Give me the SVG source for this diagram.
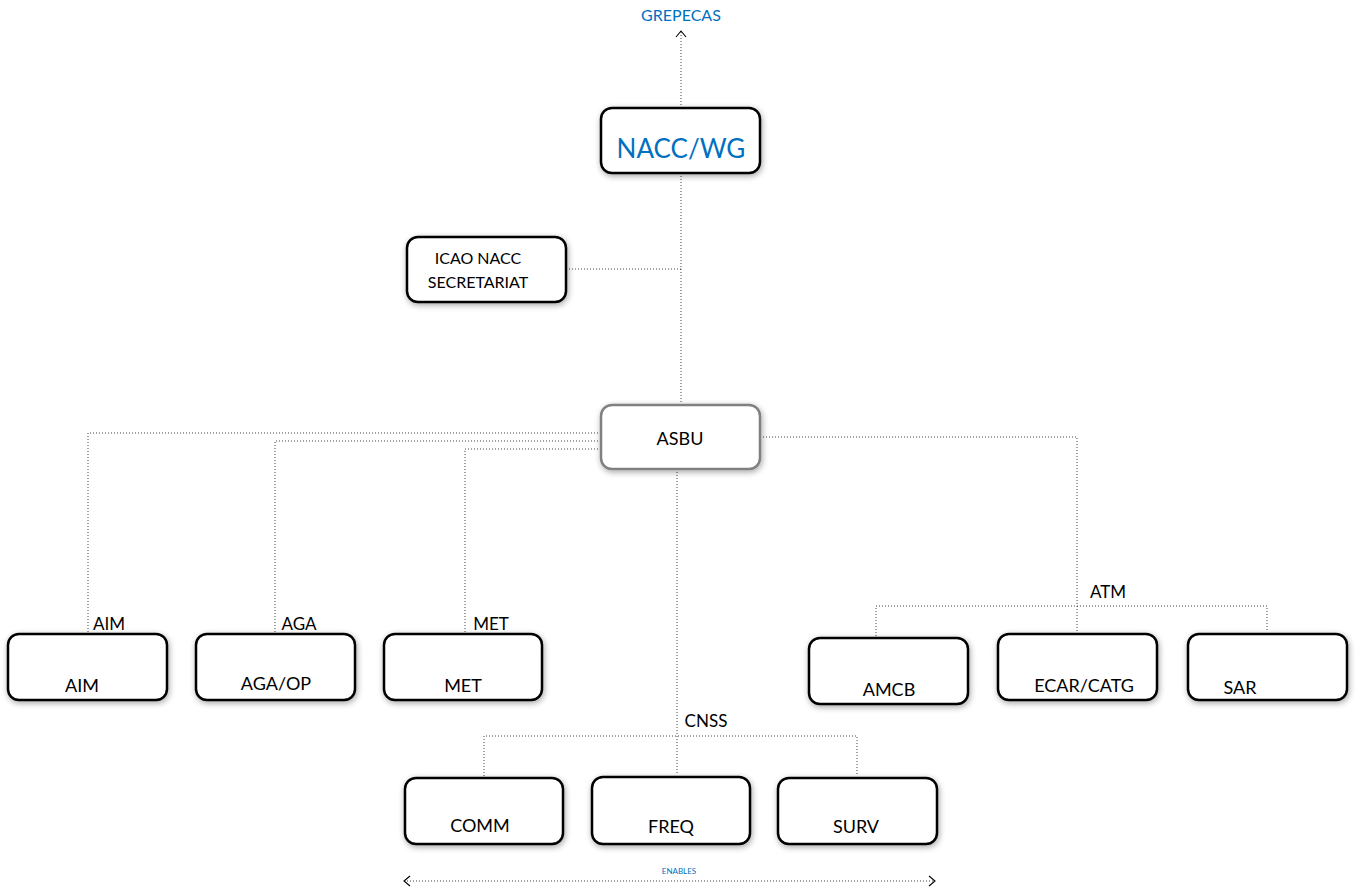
<svg xmlns="http://www.w3.org/2000/svg" width="1356" height="890" viewBox="0 0 1356 890">
<style>
text{font-family:Lato,"Open Sans","Liberation Sans",sans-serif;fill:#000;text-anchor:middle}
.box{fill:#fff;stroke:#000;stroke-width:2.5}
.grey{stroke:#808080}
.c{fill:none;stroke:#444;stroke-width:1;stroke-dasharray:1 2}
.lbl{font-size:18px}
.blue{fill:#0070C0}
</style>
<defs>
<filter id="sh" x="-10%" y="-20%" width="120%" height="150%">
<feGaussianBlur in="SourceAlpha" stdDeviation="3"/>
<feOffset dx="1" dy="2" result="b"/>
<feComponentTransfer><feFuncA type="linear" slope="0.35"/></feComponentTransfer>
<feMerge><feMergeNode/><feMergeNode in="SourceGraphic"/></feMerge>
</filter>
<marker id="chev" markerWidth="14" markerHeight="14" refX="7" refY="6" orient="auto-start-reverse" markerUnits="userSpaceOnUse">
<path d="M1,1 L7,6 L1,11" fill="none" stroke="#000" stroke-width="1.1"/>
</marker>
</defs>
<g id="connectors">
<line class="c" x1="681" y1="105" x2="681" y2="31" marker-end="url(#chev)"/>
<line class="c" x1="681" y1="173" x2="681" y2="405"/>
<line class="c" x1="566" y1="269" x2="681" y2="269"/>
<polyline class="c" points="601,433 88,433 88,633"/>
<polyline class="c" points="601,441 275,441 275,633"/>
<polyline class="c" points="601,449 465,449 465,633"/>
<polyline class="c" points="760,437 1077,437 1077,632"/>
<polyline class="c" points="876,636 876,606 1267,606 1267,632"/>
<line class="c" x1="677" y1="469" x2="677" y2="775"/>
<polyline class="c" points="484,776 484,736 857,736 857,776"/>
<line class="c" x1="404" y1="881" x2="935" y2="881" marker-start="url(#chev)" marker-end="url(#chev)"/>
</g>
<g id="grepecas"><text x="681" y="21" font-size="16" class="blue">GREPECAS</text></g>
<g id="naccwg"><rect class="box" x="601" y="108" width="159" height="65" rx="11" filter="url(#sh)"/><text x="681" y="158" font-size="26" class="blue">NACC/WG</text></g>
<g id="secretariat"><rect class="box" x="407" y="237" width="159" height="65" rx="11" filter="url(#sh)"/><text x="478" y="264" font-size="16">ICAO NACC</text><text x="478" y="288" font-size="16">SECRETARIAT</text></g>
<g id="asbu"><rect class="box grey" x="601" y="405" width="159" height="64" rx="11" filter="url(#sh)"/><text x="680" y="445" class="lbl">ASBU</text></g>
<g id="lbl-aim"><text x="109" y="630" font-size="17">AIM</text></g>
<g id="lbl-aga"><text x="299" y="630" font-size="17">AGA</text></g>
<g id="lbl-met"><text x="491" y="630" font-size="17">MET</text></g>
<g id="lbl-atm"><text x="1108" y="598" font-size="17">ATM</text></g>
<g id="lbl-cnss"><text x="706" y="727" font-size="17">CNSS</text></g>
<g id="aim"><rect class="box" x="8" y="634" width="159" height="66" rx="11" filter="url(#sh)"/><text x="82" y="692" class="lbl">AIM</text></g>
<g id="agaop"><rect class="box" x="196" y="634" width="159" height="66" rx="11" filter="url(#sh)"/><text x="276" y="690" class="lbl">AGA/OP</text></g>
<g id="met"><rect class="box" x="384" y="634" width="158" height="66" rx="11" filter="url(#sh)"/><text x="463" y="692" class="lbl">MET</text></g>
<g id="amcb"><rect class="box" x="809" y="638" width="159" height="66" rx="11" filter="url(#sh)"/><text x="889" y="696" class="lbl">AMCB</text></g>
<g id="ecar"><rect class="box" x="998" y="634" width="159" height="66" rx="11" filter="url(#sh)"/><text x="1084" y="692" class="lbl">ECAR/CATG</text></g>
<g id="sar"><rect class="box" x="1188" y="634" width="159" height="66" rx="11" filter="url(#sh)"/><text x="1240" y="694" class="lbl">SAR</text></g>
<g id="comm"><rect class="box" x="405" y="778" width="158" height="66" rx="11" filter="url(#sh)"/><text x="480" y="832" class="lbl">COMM</text></g>
<g id="freq"><rect class="box" x="592" y="777" width="158" height="67" rx="11" filter="url(#sh)"/><text x="671" y="833" class="lbl">FREQ</text></g>
<g id="surv"><rect class="box" x="778" y="778" width="159" height="66" rx="11" filter="url(#sh)"/><text x="856" y="833" class="lbl">SURV</text></g>
<g id="enables"><text x="679" y="874" font-size="8" class="blue">ENABLES</text></g>
</svg>
